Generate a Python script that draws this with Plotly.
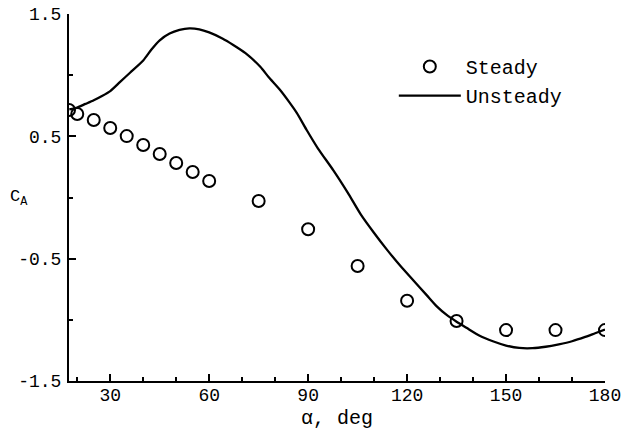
import plotly.graph_objects as go

# Steady (static) axial-force coefficient samples
steady_alpha = [17.5, 20, 25, 30, 35, 40, 45, 50, 55, 60, 75, 90, 105, 120, 135, 150, 165, 180]
steady_ca = [0.715, 0.682, 0.633, 0.568, 0.502, 0.429, 0.355, 0.282, 0.208, 0.135,
             -0.029, -0.260, -0.560, -0.844, -1.010, -1.084, -1.084, -1.084]

# Unsteady (time-accurate) axial-force coefficient history
unsteady_alpha = [17.6, 20, 22.5, 25, 27.5, 30, 33, 36, 40, 42.5, 45, 48, 51, 54, 57, 60,
                  64, 67.3, 71, 75.5, 78, 81.5, 84, 86.6, 89.6, 93, 97.7, 102, 106,
                  110, 114, 118, 122, 126, 129, 132, 135, 138, 142, 146, 150, 154, 158,
                  162, 166, 170, 174, 177, 180]
unsteady_ca = [0.72, 0.735, 0.765, 0.795, 0.83, 0.87, 0.945, 1.02, 1.12, 1.21, 1.285,
               1.34, 1.37, 1.383, 1.375, 1.35, 1.30, 1.247, 1.18, 1.069, 0.985, 0.879,
               0.79, 0.69, 0.55, 0.40, 0.22, 0.04, -0.14, -0.29, -0.43, -0.56, -0.68,
               -0.80, -0.89, -0.96, -1.015, -1.065, -1.13, -1.175, -1.21, -1.23,
               -1.232, -1.22, -1.20, -1.175, -1.14, -1.11, -1.08]

x_ticks = [30, 60, 90, 120, 150, 180]
y_ticks = [-1.5, -0.5, 0.5, 1.5]

FONT = "Liberation Mono"

fig = go.Figure()
fig.add_trace(go.Scatter(
    x=steady_alpha, y=steady_ca, mode="markers", name="Steady",
    marker=dict(symbol="circle-open", size=12, color="black", line=dict(width=2, color="black")),
))
fig.add_trace(go.Scatter(
    x=unsteady_alpha, y=unsteady_ca, mode="lines", name="Unsteady",
    line=dict(color="black", width=2.3, shape="spline", smoothing=0.6),
))

fig.update_layout(
    width=623, height=430,
    margin=dict(l=69, r=18, t=14, b=49),
    paper_bgcolor="white", plot_bgcolor="white",
    font=dict(family=FONT, color="black", size=18),
    showlegend=True,
    legend=dict(x=0.606, y=0.91, xanchor="left", yanchor="top",
                bgcolor="rgba(0,0,0,0)", font=dict(family=FONT, size=20),
                itemwidth=62, tracegroupgap=0),
    xaxis=dict(
        range=[17.5, 180], tickvals=x_ticks, showgrid=False, zeroline=False,
        showline=True, linecolor="black", linewidth=2, mirror=False, automargin=False,
        ticks="inside", ticklen=7, tickwidth=1.5, tickcolor="black",
        tickfont=dict(family=FONT, size=18), ticklabelstandoff=-4,
        minor=dict(dtick=10, tick0=0, ticks="inside", ticklen=4, tickwidth=1.5,
                   tickcolor="black", showgrid=False),
    ),
    yaxis=dict(
        range=[-1.5, 1.5], tickvals=y_ticks, ticktext=["-1.5", "-0.5", "0.5", "1.5"],
        showgrid=False, zeroline=False, automargin=False,
        showline=True, linecolor="black", linewidth=2, mirror=False,
        ticks="inside", ticklen=7, tickwidth=1.5, tickcolor="black",
        tickfont=dict(family=FONT, size=18), ticklabelstandoff=2,
        minor=dict(tickvals=[-1, 0, 1], ticks="inside", ticklen=4, tickwidth=1.5,
                   tickcolor="black", showgrid=False),
    ),
    annotations=[
        dict(text="α, deg", xref="paper", yref="paper", x=0.5, y=-0.101,
             xanchor="center", yanchor="middle", showarrow=False,
             font=dict(family=FONT, size=20)),
        dict(text="C<sub>A</sub>", xref="paper", yref="paper", x=-0.094, y=0.50,
             xanchor="center", yanchor="middle", showarrow=False,
             font=dict(family=FONT, size=17)),
    ],
)

fig.write_html("out.html")
